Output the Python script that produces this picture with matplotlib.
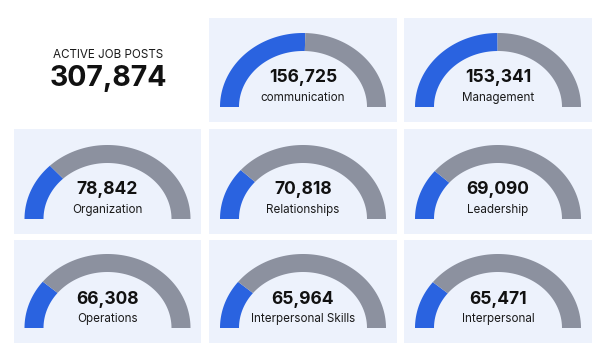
import numpy as np
import matplotlib
matplotlib.use("Agg")
import matplotlib.pyplot as plt
from matplotlib.patches import Rectangle, Polygon

# data
total_label = "ACTIVE JOB POSTS"
total_posts = 307874
skills = ["communication", "Management", "Organization", "Relationships", "Leadership",
          "Operations", "Interpersonal Skills", "Interpersonal"]
posts = [156725, 153341, 78842, 70818, 69090, 66308, 65964, 65471]

BLUE = "#2a63e0"
GRAY = "#8c919f"
PANEL = "#edf2fc"
FONT = "Inter"

# panel grid in pixels (x0, x1) / (y0, y1)
cols = [(14, 201), (209, 397), (404, 592)]
rows = [(18, 122), (129, 234), (240, 343)]

fig = plt.figure(figsize=(6.05, 3.52), dpi=100)
ax = fig.add_axes([0, 0, 1, 1])
ax.set_xlim(0, 605)
ax.set_ylim(352, 0)
ax.axis("off")


def arc(cx, cy, t0, t1, rx_out=83, ry_out=74, rx_in=64, ry_in=56, n=80):
    t = np.linspace(t0, t1, n)
    xo = cx - rx_out * np.cos(t)
    yo = cy - ry_out * np.sin(t)
    xi = cx - rx_in * np.cos(t[::-1])
    yi = cy - ry_in * np.sin(t[::-1])
    return np.column_stack([np.r_[xo, xi], np.r_[yo, yi]])


# headline number in the first cell
cx0 = (cols[0][0] + cols[0][1]) / 2
ax.text(cx0 + 1, 55, total_label, ha="center", va="center", fontsize=8.4,
        family=FONT, color="#1a1a1a")
ax.text(cx0 + 1, 79, f"{total_posts:,}", ha="center", va="center", fontsize=20.5,
        family=FONT, fontweight="bold", color="#111111")

cells = [(r, c) for r in range(3) for c in range(3)][1:]
for (r, c), name, val in zip(cells, skills, posts):
    x0, x1 = cols[c]
    y0, y1 = rows[r]
    ax.add_patch(Rectangle((x0, y0), x1 - x0, y1 - y0, facecolor=PANEL, edgecolor="none"))
    cx = (x0 + x1) / 2
    cy = y1 - 15
    frac = val / total_posts
    ax.add_patch(Polygon(arc(cx, cy, 0, frac * np.pi), closed=True,
                         facecolor=BLUE, edgecolor="none"))
    ax.add_patch(Polygon(arc(cx, cy, frac * np.pi, np.pi), closed=True,
                         facecolor=GRAY, edgecolor="none"))
    ax.text(cx, cy - 29, f"{val:,}", ha="center", va="center", fontsize=12.6,
            family=FONT, fontweight="bold", color="#111111")
    ax.text(cx, cy - 9, name, ha="center", va="center", fontsize=8.4,
            family=FONT, color="#1a1a1a")

fig.savefig("out.png", dpi=100, facecolor="white")
